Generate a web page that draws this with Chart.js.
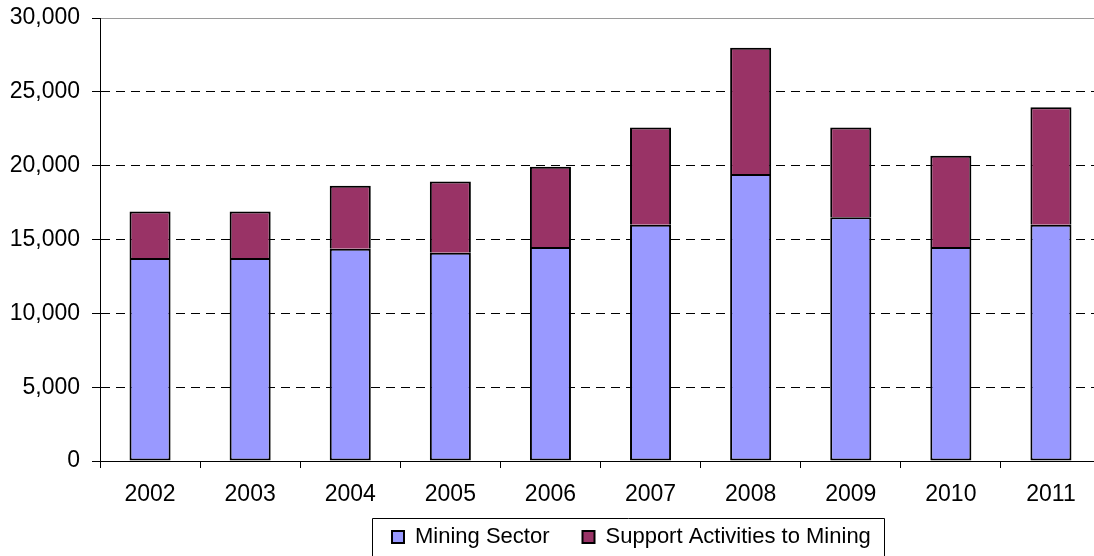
<!DOCTYPE html>
<html>
<head>
<meta charset="utf-8">
<script src="https://cdn.jsdelivr.net/npm/chart.js@4.4.1/dist/chart.umd.min.js"></script>
<style>
  html, body { margin: 0; padding: 0; background: #fff; overflow: hidden; }
  #wrap { width: 1094px; height: 556px; overflow: hidden; }
  canvas { display: block; }
</style>
</head>
<body>
<div id="wrap"><canvas id="c" width="1101" height="556"></canvas></div>
<script>
const years = ['2002','2003','2004','2005','2006','2007','2008','2009','2010','2011'];
const miningSector = [13740, 13740, 14370, 14100, 14490, 16000, 19440, 16500, 14490, 16000];
const supportActivities = [3160, 3160, 4270, 4820, 5440, 6580, 8540, 6080, 6190, 7950];
const seriesNames = ['Mining Sector', 'Support Activities to Mining'];
const yTicks = [0, 5000, 10000, 15000, 20000, 25000, 30000];

const FONT = '"Liberation Sans", Arial, sans-serif';

const legendFrame = {
  id: 'legendFrame',
  afterInit(chart) {
    const lg = chart.legend;
    const origFit = lg.fit;
    lg.fit = function () { origFit.call(this); this.height = 38; };
  },
  afterLayout(chart) {
    const lg = chart.legend;
    const pad = lg.options.labels.padding;
    const fs = lg.options.labels.font.size;
    lg._frameTop = lg.top;
    lg.top = lg.top + 19 - pad - fs / 2;
    lg.bottom = chart.height;
    lg.height = lg.bottom - lg.top;
    const w = lg.width;
    lg.left = 392 - pad;
    lg.right = lg.left + w;
  },
  afterDraw(chart) {
    const lg = chart.legend;
    const hb = lg.legendHitBoxes;
    if (!hb || !hb.length) return;
    const first = hb[0], last = hb[hb.length - 1];
    const x1 = Math.round(first.left - 20) + 0.5;
    const x2 = Math.round(last.left + last.width + 13) + 0.5;
    const y1 = Math.round(lg._frameTop) + 0.5;
    const ctx = chart.ctx;
    ctx.save();
    ctx.strokeStyle = '#000';
    ctx.lineWidth = 1;
    ctx.beginPath();
    ctx.moveTo(x1, chart.height + 5);
    ctx.lineTo(x1, y1);
    ctx.lineTo(x2, y1);
    ctx.lineTo(x2, chart.height + 5);
    ctx.stroke();
    ctx.restore();
  }
};

new Chart(document.getElementById('c'), {
  type: 'bar',
  data: {
    labels: years,
    datasets: [
      {
        label: seriesNames[0],
        data: miningSector,
        backgroundColor: '#9999FF',
        borderColor: '#000',
        borderWidth: 2,
        borderSkipped: false,
        barPercentage: 0.41,
        categoryPercentage: 1.0
      },
      {
        label: seriesNames[1],
        data: supportActivities,
        backgroundColor: '#993366',
        borderColor: '#000',
        borderWidth: 2,
        borderSkipped: 'start',
        barPercentage: 0.41,
        categoryPercentage: 1.0
      }
    ]
  },
  options: {
    responsive: false,
    animation: false,
    devicePixelRatio: 1,
    layout: { padding: { top: 18, left: 0, right: 0, bottom: 0 } },
    scales: {
      x: {
        stacked: true,
        offset: true,
        grid: {
          display: true,
          offset: true,
          drawOnChartArea: false,
          drawTicks: true,
          tickLength: 7,
          tickColor: '#000',
          tickWidth: 1
        },
        border: { display: true, color: '#000', width: 1 },
        ticks: {
          color: '#000',
          font: { family: FONT, size: 23 },
          padding: 13,
          maxRotation: 0,
          autoSkip: false
        },
        afterFit(scale) { scale.height = 57; }
      },
      y: {
        stacked: true,
        min: 0,
        max: 30000,
        afterBuildTicks(scale) { scale.ticks = yTicks.map(v => ({ value: v })); },
        grid: {
          drawTicks: true,
          tickLength: 8,
          tickColor: '#000',
          tickWidth: 1,
          tickBorderDash: [],
          lineWidth: 1,
          color: ctx => {
            if (!ctx.tick) return '#000';
            if (ctx.tick.value === 30000) return '#9a9a9a';
            if (ctx.tick.value === 0) return 'rgba(0,0,0,0)';
            return '#000';
          }
        },
        border: {
          display: true,
          color: '#000',
          width: 1,
          dash: ctx => (ctx.tick && ctx.tick.value !== 30000) ? [9, 6] : []
        },
        ticks: {
          color: '#000',
          font: { family: FONT, size: 23 },
          padding: 12,
          callback: v => Number(v).toLocaleString('en-US')
        },
        afterFit(scale) { scale.width = 100; scale.paddingTop = 0; scale.paddingBottom = 0; }
      }
    },
    plugins: {
      legend: {
        display: true,
        position: 'bottom',
        align: 'start',
        labels: {
          color: '#000',
          font: { family: FONT, size: 22 },
          boxWidth: 12,
          boxHeight: 12,
          padding: 33
        }
      },
      tooltip: { enabled: false },
      title: { display: false }
    }
  },
  plugins: [legendFrame]
});
</script>
</body>
</html>
